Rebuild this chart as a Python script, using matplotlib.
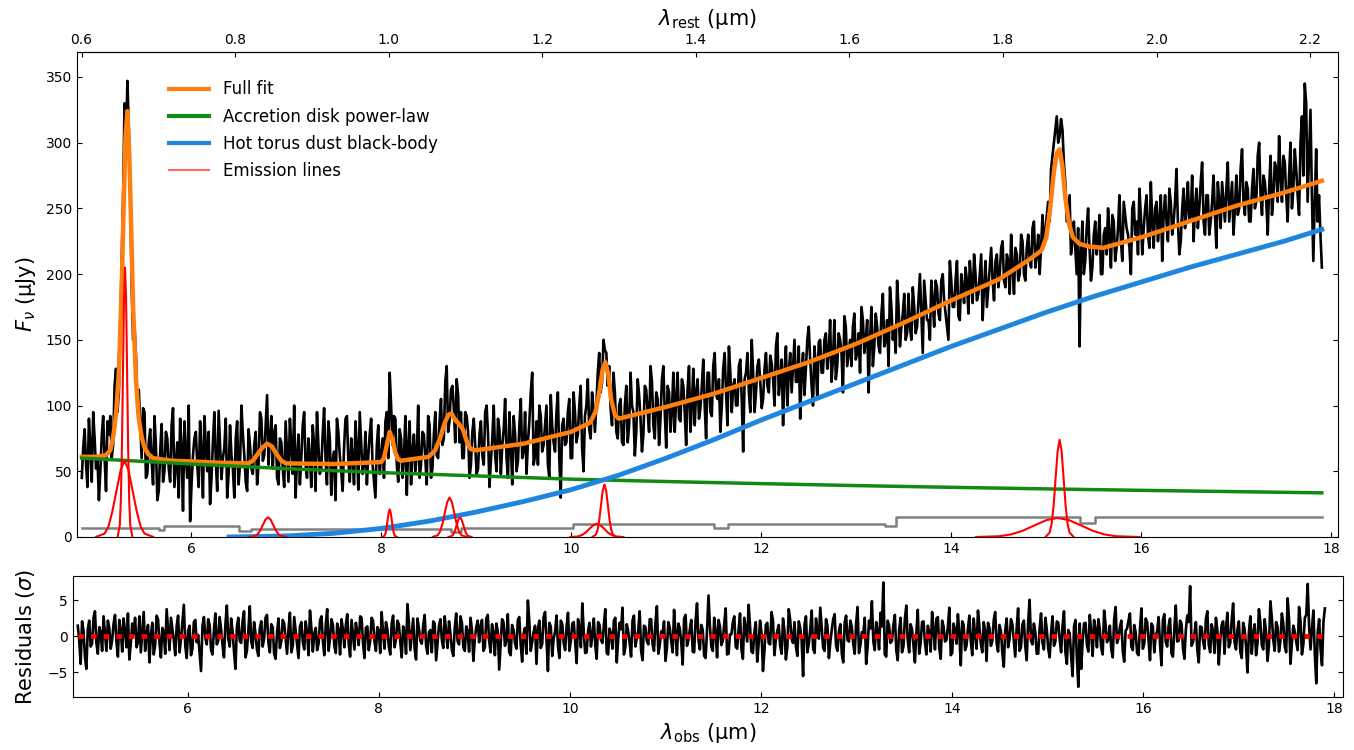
import numpy as np
import matplotlib
matplotlib.use("Agg")
import matplotlib.pyplot as plt
from matplotlib.lines import Line2D

# --- values ---
one_plus_z = 8.08

# observed spectrum: samples at 4.85 + 0.03*i ...
wl_start, wl_step = 4.85, 0.03
flux = [
    45, 82, 38, 70, 95, 52, 28, 77, 60, 88,
    92, 70, 128, 110, 210, 330, 347, 262, 150, 138,
    112, 60, 95, 48, 82, 40, 70, 35, 86, 50,
    75, 42, 98, 55, 30, 68, 88, 45, 12, 62,
    80, 38, 65, 92, 50, 25, 72, 58, 96, 44,
    68, 30, 85, 52, 75, 40, 100, 62, 35, 70,
    48, 80, 55, 90, 62, 108, 75, 52, 85, 40,
    72, 38, 65, 90, 48, 30, 78, 60, 95, 45,
    62, 85, 35, 70, 52, 98, 40, 75, 58, 28,
    80, 50, 68, 92, 42, 60, 88, 36, 72, 55,
    40, 78, 55, 30, 85, 62, 45, 95, 125, 70,
    90, 42, 75, 60, 32, 88, 65, 50, 100, 55,
    78, 40, 85, 52, 95, 60, 105, 75, 130, 88,
    115, 72, 108, 95, 60, 92, 45, 80, 70, 52,
    88, 55, 100, 38, 75, 62, 90, 48, 82, 60,
    95, 40, 78, 58, 105, 65, 48, 88, 125, 62,
    55, 92, 70, 100, 45, 85, 65, 110, 30, 90,
    72, 105, 60, 95, 78, 115, 50, 100, 82, 110,
    80, 125, 110, 150, 140, 130, 85, 110, 75, 105,
    70, 115, 85, 100, 62, 120, 90, 78, 112, 80,
    118, 75, 105, 90, 130, 68, 110, 95, 80, 125,
    88, 115, 70, 130, 100, 85, 120, 98, 135, 75,
    125, 92, 140, 105, 80, 128, 110, 145, 95, 120,
    100, 135, 65, 125, 110, 150, 95, 130, 118, 105,
    140, 110, 132, 100, 155, 120, 85, 145, 125, 110,
    150, 118, 90, 140, 128, 160, 115, 145, 105, 150,
    125, 155, 140, 118, 165, 130, 150, 110, 160, 140,
    130, 170, 140, 125, 165, 150, 110, 175, 145, 160,
    140, 185, 150, 130, 175, 160, 195, 145, 170, 150,
    185, 150, 175, 160, 200, 140, 180, 165, 195, 160,
    190, 165, 200, 170, 150, 195, 175, 210, 165, 190,
    205, 170, 195, 215, 180, 200, 165, 210, 190, 220,
    180, 215, 200, 225, 190, 210, 230, 185, 215, 200,
    225, 195, 230, 205, 240, 215, 200, 245, 230, 255,
    280, 300, 320, 305, 310, 270, 250, 215, 240, 200,
    145, 240, 210, 250, 195, 230, 215, 245, 200, 235,
    250, 205, 240, 220, 260, 210, 245, 230, 200, 255,
    240, 265, 215, 250, 230, 270, 220, 255, 240, 210,
    260, 225, 255, 240, 280, 215, 250, 235, 270, 245,
    225, 265, 250, 285, 230, 260, 240, 275, 220, 255,
    270, 240, 285, 255, 230, 275, 250, 295, 245, 265,
    240, 280, 255, 300, 245, 270, 230, 290, 260, 280,
    305, 255, 285, 240, 300, 265, 280, 245, 320, 345,
    255, 325, 210, 295, 260, 205,
]
# ... and the samples halfway between them
flux_mid = [
    68, 55, 90, 42, 75, 60, 50, 92, 35, 78,
    60, 115, 95, 160, 260, 300, 310, 190, 160, 95,
    85, 98, 45, 72, 58, 92, 28, 65, 42, 80,
    52, 85, 38, 72, 90, 20, 60, 100, 40, 75,
    55, 88, 30, 70, 80, 45, 95, 35, 70, 60,
    90, 48, 62, 30, 88, 55, 78, 42, 82, 52,
    70, 40, 95, 58, 85, 55, 92, 80, 45, 75,
    52, 88, 42, 70, 100, 60, 40, 85, 55, 75,
    38, 70, 95, 48, 78, 60, 88, 32, 65, 90,
    62, 35, 90, 58, 75, 40, 68, 95, 48, 80,
    62, 90, 42, 70, 48, 75, 88, 60, 100, 92,
    55, 82, 45, 92, 70, 40, 78, 62, 45, 80,
    60, 92, 45, 78, 62, 88, 70, 118, 80, 112,
    98, 120, 72, 60, 95, 80, 55, 90, 48, 78,
    62, 95, 78, 58, 100, 50, 82, 70, 105, 45,
    70, 92, 50, 85, 60, 95, 72, 110, 55, 88,
    100, 65, 85, 55, 108, 72, 95, 60, 85, 70,
    95, 60, 110, 72, 100, 68, 92, 120, 75, 98,
    100, 140, 118, 142, 115, 98, 125, 80, 100, 72,
    100, 72, 125, 95, 80, 108, 65, 115, 95, 130,
    85, 110, 70, 120, 95, 115, 80, 125, 105, 90,
    120, 95, 112, 80, 128, 110, 90, 115, 100, 125,
    95, 130, 108, 120, 100, 140, 85, 125, 115, 100,
    130, 105, 120, 140, 95, 125, 110, 135, 98, 128,
    115, 138, 120, 145, 108, 135, 125, 100, 140, 130,
    118, 145, 125, 108, 150, 135, 100, 130, 148, 125,
    150, 128, 165, 135, 120, 155, 140, 168, 130, 150,
    160, 135, 155, 175, 140, 165, 150, 130, 170, 145,
    170, 145, 165, 190, 150, 140, 175, 160, 185, 155,
    160, 190, 155, 180, 170, 195, 165, 150, 180, 195,
    170, 195, 180, 160, 210, 175, 195, 168, 200, 178,
    195, 210, 178, 200, 185, 215, 190, 175, 205, 195,
    210, 190, 220, 195, 215, 185, 205, 220, 195, 230,
    200, 220, 210, 235, 205, 230, 220, 225, 245, 240,
    290, 310, 300, 318, 285, 240, 260, 225, 220, 235,
    215, 200, 235, 220, 205, 240, 225, 200, 230, 215,
    230, 245, 210, 235, 225, 255, 235, 220, 250, 230,
    215, 245, 235, 260, 220, 240, 250, 225, 260, 245,
    240, 265, 230, 255, 240, 225, 265, 250, 240, 275,
    250, 235, 270, 240, 260, 230, 255, 245, 270, 235,
    255, 265, 240, 270, 250, 245, 280, 255, 270, 240,
    265, 250, 290, 260, 275, 255, 265, 245, 285, 255,
    275, 290, 260, 275, 250, 295, 260, 300, 275, 330,
    290, 260, 255, 240, 230,
]

# residuals in units of sigma, same sampling
resid = [
    1.5, -3.8, 0.8, -4.5, 2.2, -1.0, 3.5, -2.4, 0.5, 2.8,
    -2.0, 1.2, -0.5, 3.0, -2.8, 0.9, 2.5, -1.5, -3.2, 1.8,
    2.6, -0.8, -2.2, 3.4, 0.3, -3.6, 1.9, -1.2, 2.4, -2.9,
    0.6, 3.8, -1.9, 1.1, -2.6, 2.9, -0.4, 4.4, -3.0, 1.5,
    -1.7, 2.3, 0.2, -4.8, 2.7, -1.1, 1.6, -2.5, 3.2, -0.6,
    1.0, -2.9, 4.3, -1.4, 0.7, -4.5, 2.6, -0.9, 3.5, -2.0,
    4.2, -1.6, 0.4, -2.7, 2.1, -0.3, 3.0, -2.2, 1.3, -3.1,
    2.5, -0.7, 1.8, -2.4, 3.3, -1.3, 0.8, -3.0, 2.0, -1.8,
    0.5, 3.6, -2.1, 1.2, -1.0, 2.8, -2.6, 3.8, -0.2, 1.6,
    -2.3, 0.9, 2.4, -1.5, 3.1, -2.8, 0.3, 1.9, -1.2, 2.6,
    -3.0, 1.4, -0.6, 2.2, -2.0, 0.8, 3.4, -1.7, 1.0, -2.5,
    2.9, -0.4, 1.7, -2.9, 0.6, 4.5, -1.9, 2.5, -3.2, 1.1,
    -1.0, 3.0, -2.4, 0.9, 2.1, -3.3, 1.5, -0.5, 2.8, -1.6,
    0.4, -2.7, 3.2, -1.1, 1.9, -2.0, 0.7, 2.6, -3.4, 1.3,
    -0.8, 2.3, -1.5, 3.0, -2.2, 0.5, 1.8, -4.6, 2.4, -1.3,
    3.1, -2.6, 0.9, -1.7, 2.7, -3.5, 1.2, 5.0, -2.0, 0.6,
    -3.8, 2.2, -1.0, 3.4, -4.8, 1.4, -0.3, 2.9, -3.0, 1.7,
    -1.9, 3.3, -0.6, 2.0, -3.7, 1.0, 4.6, -2.3, 0.8, -1.4,
    2.5, -3.1, 1.6, -0.9, 3.8, -2.5, 0.4, 2.2, -3.6, 1.9,
    4.0, -1.5, 0.7, -2.8, 2.9, -0.2, 3.5, -3.3, 1.3, -1.1,
    2.4, -2.0, 4.2, -1.2, 0.5, -3.4, 2.0, -0.7, 3.7, -2.6,
    1.1, -3.9, 3.0, -0.5, 2.3, -2.2, 4.6, -1.8, 0.9, -3.0,
    5.7, -1.4, 2.6, -2.9, 1.4, -0.6, 3.9, -2.4, 0.3, 2.8,
    -1.7, 3.2, -3.1, 1.0, 4.4, -2.1, 0.6, -3.5, 2.2, -4.8,
    1.6, -0.9, 3.4, -2.6, 0.8, -1.3, 2.5, -3.2, 3.8, -0.4,
    2.0, -2.7, 1.2, -5.5, 2.8, -1.0, 3.6, -2.3, 0.5, 4.0,
    -1.6, 2.4, -3.0, 0.9, 3.1, -2.0, 1.7, -3.6, 2.9, -0.7,
    1.3, -2.4, 4.1, -1.2, 0.4, -3.8, 2.2, 4.9, -1.9, 0.8,
    3.3, 7.5, -2.8, 1.5, -0.6, 3.0, -3.3, 2.6, -1.4, 4.3,
    -2.2, 1.0, -3.6, 3.7, -0.9, 2.1, -2.5, 0.6, 3.4, -1.8,
    2.7, -3.1, 1.4, -0.5, 4.0, -2.3, 0.9, 3.1, -4.0, 1.6,
    -1.3, 2.9, -2.6, 0.3, 3.6, -1.0, 2.0, -3.4, 1.2, -0.6,
    3.4, -2.1, 0.8, -4.2, 2.5, -0.4, 1.7, -2.8, 3.9, -1.5,
    2.2, -3.3, 5.1, -1.1, 0.6, -2.4, 3.2, -1.8, 1.0, -2.9,
    2.8, -0.7, 1.9, -2.2, 3.5, -3.8, 0.4, -5.5, 2.3, -7.0,
    -4.5, 1.8, -1.2, 3.0, -2.7, 0.9, 2.4, -1.6, 3.6, -0.8,
    1.5, -2.9, 4.1, -0.3, 2.2, -3.5, 1.1, 3.2, -1.9, 0.6,
    -2.6, 3.9, -1.0, 2.0, -3.3, 1.4, 0.2, 2.7, -4.0, 3.1,
    -1.4, 2.5, -2.8, 4.3, -0.6, 1.8, -3.1, 2.9, 7.0, -0.8,
    2.0, -3.6, 1.3, -1.7, 3.5, -2.2, 0.7, 2.6, -3.9, 1.6,
    -2.4, 3.3, -0.9, 4.6, -1.8, 2.1, -3.0, 1.0, -5.0, 2.8,
    0.4, -2.6, 3.8, -1.2, 2.4, -3.4, 4.9, -0.5, 2.0, -2.1,
    3.2, -1.4, 5.3, -3.8, 1.5, -0.7, 4.1, -2.5, 2.6, 7.3,
    -1.8, 3.6, -6.5, 2.4, -4.0, 3.9,
]
resid_mid = [
    -0.5, 2.1, -2.8, 1.0, -1.4, 2.6, -0.9, 1.3, -2.0, 0.4,
    2.2, -1.7, 1.8, -0.8, 2.3, -2.1, 0.6, 3.2, -1.0, 0.3,
    -1.5, 2.8, 0.7, -2.0, 1.6, 0.2, -2.5, 2.9, -0.9, 1.2,
    -2.4, 1.0, 2.6, -0.5, 1.4, -2.2, 2.0, -1.3, 0.8, -2.6,
    2.0, -0.8, -2.3, 1.5, -0.2, 2.4, -1.9, 0.9, -1.1, 2.7,
    -1.2, 1.7, -0.4, 2.5, -2.1, 1.3, -0.6, 2.2, -2.9, 0.8,
    -0.7, 2.0, -1.8, 1.1, -1.4, 2.6, -0.9, 1.7, -2.4, 0.5,
    -1.6, 2.3, -0.3, 1.0, -2.2, 2.7, -1.1, 1.4, -0.8, 2.1,
    -2.6, 1.1, 0.4, -1.9, 2.2, -0.6, 1.6, -2.0, 2.4, -1.3,
    1.8, -2.5, 0.9, 1.6, -1.0, 2.3, -1.8, 0.7, 2.8, -0.9,
    1.2, -1.9, 2.6, -0.7, 1.3, -2.3, 0.5, 2.0, -1.4, 1.8,
    -1.5, 2.2, -0.8, 1.4, -2.4, 1.9, 0.3, -1.7, 2.5, -0.6,
    1.6, -1.3, 0.6, -2.2, 1.8, -0.9, 2.4, -1.6, 0.5, 2.1,
    -1.9, 1.2, -0.7, 2.8, -1.5, 1.4, -2.1, 0.9, -0.3, 2.2,
    1.4, -2.0, 2.5, -0.6, 1.7, -2.6, 0.8, -1.2, 2.0, -0.5,
    -2.2, 1.6, -0.9, 2.3, -1.1, 0.4, -2.4, 2.1, -0.8, 1.5,
    1.0, -1.6, 2.7, -0.4, 1.9, -2.7, 0.7, -1.3, 2.2, -0.9,
    1.3, -2.0, 1.8, -0.7, 2.4, -1.5, 0.6, -2.2, 1.9, 0.2,
    -1.2, 2.0, -0.5, 1.6, -2.3, 1.1, -1.7, 2.6, -0.4, 1.0,
    -2.5, 1.7, -0.9, 2.2, -1.4, 0.8, -2.0, 1.5, -0.6, 2.4,
    -1.1, 1.9, -2.4, 0.7, 2.1, -1.6, 1.2, -2.2, 0.4, 1.8,
    -0.8, 2.5, -1.3, 1.0, -2.1, 2.2, -0.5, 1.6, -2.7, 0.9,
    1.5, -2.0, 0.6, 2.3, -1.2, 1.8, -2.5, 0.3, 2.0, -1.4,
    0.9, -1.8, 2.6, -0.7, 1.4, -2.3, 2.0, -1.0, 0.5, -2.1,
    1.9, -1.1, 2.2, -0.4, 1.6, -2.4, 0.8, -1.5, 2.3, -0.9,
    -1.4, 2.1, -0.6, 1.7, -2.2, 1.0, -1.7, 2.5, -0.3, 1.3,
    -2.0, 1.5, -0.8, 2.4, -1.3, 0.7, -2.4, 1.9, -0.5, 2.2,
    -1.0, 1.8, -2.3, 0.6, 2.6, -1.5, 1.1, -0.7, 2.0, -1.8,
    1.4, -2.5, 2.2, -0.9, 1.6, -1.9, 0.8, -2.2, 2.4, -0.6,
    1.7, -1.2, 0.5, -2.4, 2.0, -0.8, 1.5, -2.1, 0.9, 2.5,
    -1.6, 2.2, -0.7, 1.3, -2.6, 1.8, -1.0, 0.4, 2.1, -1.9,
    1.1, -0.6, 2.5, -1.7, 1.4, -2.2, 0.7, 1.9, -1.3, 2.3,
    -0.9, 1.6, -2.3, 0.8, -1.5, 2.4, -0.5, 1.2, -2.0, 1.7,
    -1.4, 2.0, -0.6, 1.8, -2.4, 1.1, -0.9, 2.6, -1.7, 0.5,
    -1.3, 2.1, -0.4, 1.5, -2.2, 0.9, -2.8, 1.4, -3.0, 1.8,
    -0.7, 1.9, -2.1, 0.6, 2.3, -1.5, 1.0, -2.5, 1.7, -0.4,
    -1.8, 2.4, -0.9, 1.3, -2.0, 0.8, 2.2, -1.4, 1.6, -2.3,
    1.0, -1.7, 2.5, -0.5, 1.8, -2.2, 0.7, -1.1, 2.3, -0.8,
    1.5, -2.4, 1.1, -0.7, 2.2, -1.6, 0.9, 2.0, -1.3, 0.4,
    -1.9, 1.4, -0.6, 2.4, -1.2, 1.7, -2.3, 0.8, -0.5, 2.1,
    1.2, -1.5, 2.3, -0.8, 1.0, -2.1, 1.9, -1.4, 0.6, -2.4,
    1.7, -0.9, 2.0, -1.8, 0.5, -1.2, 2.6, -2.0, 1.3, -0.6,
    1.8, -2.2, 2.4, -0.9, 0.7, -1.9, 2.1, -1.1, 3.0, 1.4,
    1.2, -2.5, 0.6, -1.8, 2.0,
]

# full model fit
fit_wl = [4.85, 5.00, 5.10, 5.15, 5.18, 5.21, 5.24, 5.27, 5.29, 5.31, 5.33, 5.35,
          5.37, 5.39, 5.42, 5.45, 5.48, 5.51, 5.55, 5.60, 5.80, 6.00, 6.30, 6.60,
          6.65, 6.70, 6.75, 6.80, 6.85, 6.90, 6.95, 7.00, 7.50, 8.00, 8.03, 8.06,
          8.09, 8.12, 8.15, 8.18, 8.21, 8.50, 8.57, 8.62, 8.67, 8.71, 8.74, 8.78,
          8.82, 8.86, 8.90, 8.94, 9.00, 9.50, 10.00, 10.20, 10.26, 10.30, 10.33,
          10.36, 10.39, 10.42, 10.46, 10.50, 11.00, 11.50, 12.00, 12.50, 13.00,
          13.50, 14.00, 14.50, 14.80, 14.95, 15.00, 15.04, 15.08, 15.11, 15.14,
          15.17, 15.20, 15.24, 15.28, 15.35, 15.45, 15.60, 16.00, 16.50, 17.00,
          17.50, 17.90]
fit_flux = [61, 61, 62, 66, 76, 93, 125, 190, 250, 305, 324, 290,
            235, 175, 120, 90, 76, 68, 63, 60, 58, 57.5, 56.5, 56,
            58, 63, 68, 71, 69, 63, 58, 56, 55.5, 57, 60, 70,
            80, 74, 64, 59, 58, 61, 66, 75, 87, 93, 94, 89,
            86, 82, 73, 67, 66, 71, 80, 87, 96, 112, 127,
            133, 124, 105, 93, 90, 99, 109, 121, 133, 147,
            163, 180, 196, 210, 218, 228, 250, 278, 292, 295,
            282, 258, 238, 228, 223, 221, 220, 228, 240, 252,
            262, 271]

# accretion disk power-law
pl_wl = [4.85, 5.5, 6, 7, 8, 9, 10, 11, 12, 13, 14, 15, 16, 17, 17.9]
pl_flux = [60, 57.5, 55.5, 52, 49, 46.5, 44, 42.2, 40.6, 39.1, 37.8, 36.6, 35.5, 34.5, 33.6]

# hot dust black-body
bb_wl = [6.4, 7.0, 7.5, 8.0, 8.5, 9.0, 9.5, 10.0, 10.5, 11.0, 11.5, 12.0,
         12.5, 13.0, 13.5, 14.0, 14.5, 15.0, 15.5, 16.0, 16.5, 17.0, 17.5, 17.9]
bb_flux = [0.0, 0.8, 2.8, 6.5, 12, 19, 27, 36, 47, 60, 74, 89,
           103, 117, 131, 145, 158, 171, 183, 194, 205, 215, 225, 234]

# grey step curve along the bottom
step_wl = [4.85, 5.66, 5.72, 6.50, 6.63, 8.74, 8.84, 10.02, 11.50, 11.65,
           13.30, 13.42, 15.35, 15.51, 17.90]
step_val = [7.1, 5.3, 8.4, 4.8, 5.9, 4.0, 6.6, 10.2, 7.1, 10.2,
            8.4, 15.0, 10.4, 15.0, 15.0]

# emission line profiles (sampled points)
halpha_b_wl = [5.00, 5.09, 5.13, 5.17, 5.215, 5.26, 5.30, 5.34, 5.385, 5.43, 5.47, 5.51, 5.60]
halpha_b_f = [0.1, 2.6, 7.8, 18.9, 35.2, 51.2, 58, 51.2, 35.2, 18.9, 7.8, 2.6, 0.1]
halpha_n_wl = [5.228, 5.250, 5.261, 5.272, 5.283, 5.294, 5.305, 5.316, 5.327, 5.338, 5.349, 5.360, 5.382]
halpha_n_f = [0.4, 9.0, 27.7, 66.6, 124.4, 180.8, 205, 180.8, 124.4, 66.6, 27.7, 9.0, 0.4]
oi_wl = [6.6175, 6.6725, 6.70, 6.7275, 6.755, 6.7825, 6.81, 6.8375, 6.865, 6.8925, 6.92, 6.9475, 7.0025]
oi_f = [0.0, 0.7, 2.0, 4.9, 9.1, 13.2, 15, 13.2, 9.1, 4.9, 2.0, 0.7, 0.0]
padelta_wl = [8.013, 8.035, 8.046, 8.057, 8.068, 8.079, 8.09, 8.101, 8.112, 8.123, 8.134, 8.145, 8.167]
padelta_f = [0.0, 0.9, 2.8, 6.8, 12.7, 18.5, 21, 18.5, 12.7, 6.8, 2.8, 0.9, 0.0]
hei_wl = [8.545, 8.595, 8.62, 8.645, 8.67, 8.695, 8.72, 8.745, 8.77, 8.795, 8.82, 8.845, 8.895]
hei_f = [0.1, 1.3, 4.1, 9.8, 18.2, 26.5, 30, 26.5, 18.2, 9.8, 4.1, 1.3, 0.1]
pagamma_wl = [8.7075, 8.7425, 8.76, 8.7775, 8.795, 8.8125, 8.83, 8.8475, 8.865, 8.8825, 8.90, 8.9175, 8.9525]
pagamma_f = [0.0, 0.7, 2.0, 4.9, 9.1, 13.2, 15, 13.2, 9.1, 4.9, 2.0, 0.7, 0.0]
pabeta_b_wl = [9.99, 10.07, 10.11, 10.15, 10.19, 10.23, 10.27, 10.31, 10.35, 10.39, 10.43, 10.47, 10.55]
pabeta_b_f = [0.0, 0.4, 1.4, 3.2, 6.1, 8.8, 10, 8.8, 6.1, 3.2, 1.4, 0.4, 0.0]
pabeta_n_wl = [10.224, 10.26, 10.278, 10.296, 10.314, 10.332, 10.35, 10.368, 10.386, 10.404, 10.422, 10.44, 10.476]
pabeta_n_f = [0.1, 1.8, 5.4, 13.0, 24.3, 35.3, 40, 35.3, 24.3, 13.0, 5.4, 1.8, 0.1]
paalpha_b_wl = [14.26, 14.51, 14.63, 14.75, 14.875, 15.00, 15.12, 15.24, 15.365, 15.49, 15.61, 15.73, 15.98]
paalpha_b_f = [0.0, 0.6, 2.0, 4.7, 8.8, 12.8, 14.5, 12.8, 8.8, 4.7, 2.0, 0.6, 0.0]
paalpha_n_wl = [14.993, 15.035, 15.056, 15.077, 15.098, 15.119, 15.14, 15.161, 15.182, 15.203, 15.224, 15.245, 15.287]
paalpha_n_f = [0.1, 3.3, 10.0, 24.0, 44.9, 65.3, 74, 65.3, 44.9, 24.0, 10.0, 3.3, 0.1]

emission_lines = [
    (halpha_b_wl, halpha_b_f), (halpha_n_wl, halpha_n_f), (oi_wl, oi_f),
    (padelta_wl, padelta_f), (hei_wl, hei_f), (pagamma_wl, pagamma_f),
    (pabeta_b_wl, pabeta_b_f), (pabeta_n_wl, pabeta_n_f),
    (paalpha_b_wl, paalpha_b_f), (paalpha_n_wl, paalpha_n_f),
]

# merge the two interleaved sample sets
n_all = len(flux) + len(flux_mid)
wl = wl_start + 0.5 * wl_step * np.arange(n_all)
flux_all = np.empty(n_all)
flux_all[0::2] = flux
flux_all[1::2] = flux_mid
resid_all = np.empty(n_all)
resid_all[0::2] = resid
resid_all[1::2] = resid_mid

C_FIT = "#ff7f0e"
C_PL = "#138a13"
C_BB = "#1f86e0"

# --- figure ---
fig = plt.figure(figsize=(13.54, 7.5), dpi=100)
ax = fig.add_axes([0.0569, 0.284, 0.9313, 0.6467])
axr = fig.add_axes([0.0539, 0.0707, 0.938, 0.1613])

ax.plot(wl, flux_all, color="black", lw=1.9, zorder=1)
ax.plot(fit_wl, fit_flux, color=C_FIT, lw=3.2, zorder=3)
ax.plot(pl_wl, pl_flux, color=C_PL, lw=2.5, zorder=3)
ax.plot(bb_wl, bb_flux, color=C_BB, lw=3.5, zorder=3)
ax.step(step_wl, step_val, where="post", color="gray", lw=1.8, zorder=2)
for lw_, lf_ in emission_lines:
    ax.plot(lw_, lf_, color="red", lw=1.5, zorder=4)

ax.set_xlim(4.80, 18.07)
ax.set_ylim(0, 369)
ax.set_yticks([0, 50, 100, 150, 200, 250, 300, 350])
ax.set_xticks([6, 8, 10, 12, 14, 16, 18])
ax.tick_params(direction="in", right=True, top=False, labelsize=10)
ax.set_ylabel(r"$F_\nu$ ($\mathrm{\mu}$Jy)", fontsize=15)
ax.yaxis.set_label_coords(-0.031, 0.5)

top = ax.secondary_xaxis("top", functions=(lambda x: x / one_plus_z,
                                           lambda x: x * one_plus_z))
top.set_xticks([0.6, 0.8, 1.0, 1.2, 1.4, 1.6, 1.8, 2.0, 2.2])
top.set_xticklabels(["0.6", "0.8", "1.0", "1.2", "1.4", "1.6", "1.8", "2.0", "2.2"])
top.tick_params(direction="in", labelsize=10)
top.set_xlabel(r"$\lambda_{\rm rest}$ ($\mathrm{\mu}$m)", fontsize=15, labelpad=6)

handles = [Line2D([], [], color=C_FIT, lw=3),
           Line2D([], [], color=C_PL, lw=3),
           Line2D([], [], color=C_BB, lw=3),
           Line2D([], [], color="red", lw=1.5, alpha=0.6)]
labels = ["Full fit", "Accretion disk power-law", "Hot torus dust black-body", "Emission lines"]
ax.legend(handles, labels, loc="upper left", bbox_to_anchor=(0.068, 0.955),
          borderaxespad=0, frameon=False, fontsize=12, handlelength=2.4,
          labelspacing=0.55)

# residuals
axr.plot(wl, resid_all, color="black", lw=1.9, zorder=2)
axr.plot([wl[0], wl[-1]], [0, 0], color="red", lw=3.5, dashes=(1.1, 1.5),
         zorder=3)
axr.set_xlim(4.80, 18.09)
axr.set_ylim(-8.4, 8.4)
axr.set_yticks([-5, 0, 5])
axr.set_xticks([6, 8, 10, 12, 14, 16, 18])
axr.tick_params(direction="in", right=True, labelsize=10)
axr.set_ylabel(r"Residuals ($\sigma$)", fontsize=15)
axr.yaxis.set_label_coords(-0.028, 0.5)
axr.set_xlabel(r"$\lambda_{\rm obs}$ ($\mathrm{\mu}$m)", fontsize=15)

fig.savefig("out.png", dpi=100)
